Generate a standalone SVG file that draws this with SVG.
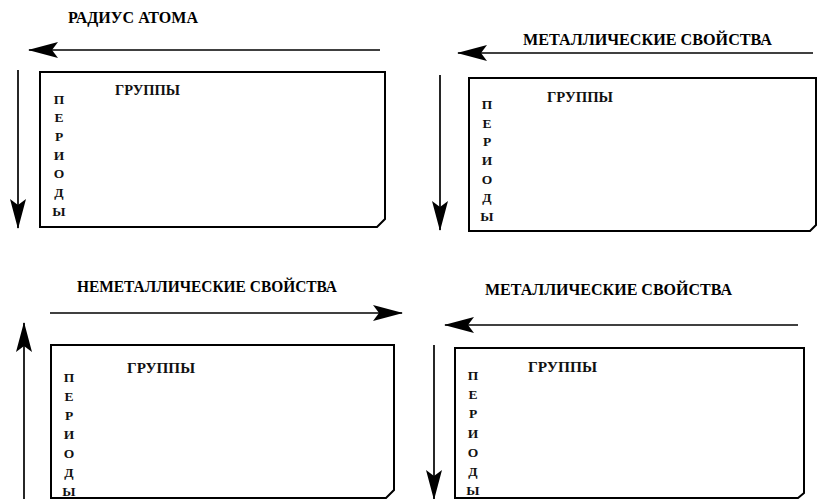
<svg xmlns="http://www.w3.org/2000/svg" width="817" height="499" viewBox="0 0 817 499">
  <style>
    .title { font-family: "Liberation Serif", "Times New Roman", serif; font-weight: bold; font-size: 16px; fill: #000; }
    .grp { font-family: "Liberation Serif", "Times New Roman", serif; font-weight: bold; font-size: 14px; fill: #111; }
    .per { font-family: "Liberation Serif", "Times New Roman", serif; font-weight: bold; font-size: 13.5px; fill: #111; text-anchor: middle; }
    .box { fill: none; stroke: #000; stroke-width: 2; stroke-linejoin: miter; }
    .arr { fill: none; stroke: #000; stroke-width: 1.7; marker-end: url(#head); }
  </style>
  <defs>
    <marker id="head" viewBox="0 0 30 16" markerWidth="30" markerHeight="16" refX="29" refY="8" orient="auto" markerUnits="userSpaceOnUse">
      <path d="M0,0 L30,8 L0,16 L6,8 Z" fill="#000"/>
    </marker>
  </defs>
  <rect width="817" height="499" fill="#fff"/>

  <g id="connectors">
    <line class="arr" x1="380" y1="50" x2="29" y2="50"/>
    <line class="arr" x1="18" y1="70" x2="18" y2="228"/>
    <line class="arr" x1="813" y1="53" x2="458" y2="53"/>
    <line class="arr" x1="440" y1="75" x2="440" y2="230"/>
    <line class="arr" x1="50" y1="313" x2="402" y2="313"/>
    <line class="arr" x1="24" y1="499" x2="24" y2="323"/>
    <line class="arr" x1="798" y1="325" x2="445" y2="325"/>
    <line class="arr" x1="434" y1="345" x2="434" y2="499"/>
  </g>

  <g id="panel-radius">
    <text class="title" x="68" y="23" textLength="130" lengthAdjust="spacingAndGlyphs">РАДИУС АТОМА</text>
    <path class="box" d="M40,72 H385 V219 L377,227 H40 Z"/>
    <text class="grp" x="115" y="95" textLength="65" lengthAdjust="spacingAndGlyphs">ГРУППЫ</text>
    <text class="per" x="59" y="104">П</text>
    <text class="per" x="59" y="122">Е</text>
    <text class="per" x="59" y="141">Р</text>
    <text class="per" x="59" y="160">И</text>
    <text class="per" x="59" y="178">О</text>
    <text class="per" x="59" y="197">Д</text>
    <text class="per" x="59" y="216">Ы</text>
  </g>

  <g id="panel-metal-top">
    <text class="title" x="523" y="45" textLength="249" lengthAdjust="spacingAndGlyphs">МЕТАЛЛИЧЕСКИЕ СВОЙСТВА</text>
    <path class="box" d="M469,78 H816 V225 L810,231 H469 Z"/>
    <text class="grp" x="547" y="102" textLength="66" lengthAdjust="spacingAndGlyphs">ГРУППЫ</text>
    <text class="per" x="487" y="109">П</text>
    <text class="per" x="487" y="128">Е</text>
    <text class="per" x="487" y="146">Р</text>
    <text class="per" x="487" y="165">И</text>
    <text class="per" x="487" y="184">О</text>
    <text class="per" x="487" y="202">Д</text>
    <text class="per" x="487" y="221">Ы</text>
  </g>

  <g id="panel-nonmetal">
    <text class="title" x="77" y="292" textLength="260" lengthAdjust="spacingAndGlyphs">НЕМЕТАЛЛИЧЕСКИЕ СВОЙСТВА</text>
    <path class="box" d="M51,345 H394 V490 L386,498 H51 Z"/>
    <text class="grp" x="127" y="373" textLength="68" lengthAdjust="spacingAndGlyphs">ГРУППЫ</text>
    <text class="per" x="69" y="382">П</text>
    <text class="per" x="69" y="401">Е</text>
    <text class="per" x="69" y="420">Р</text>
    <text class="per" x="69" y="439">И</text>
    <text class="per" x="69" y="458">О</text>
    <text class="per" x="69" y="477">Д</text>
    <text class="per" x="69" y="496">Ы</text>
  </g>

  <g id="panel-metal-bottom">
    <text class="title" x="485" y="295" textLength="247" lengthAdjust="spacingAndGlyphs">МЕТАЛЛИЧЕСКИЕ СВОЙСТВА</text>
    <path class="box" d="M455,348 H804 V493 L798,498 H455 Z"/>
    <text class="grp" x="528" y="372" textLength="69" lengthAdjust="spacingAndGlyphs">ГРУППЫ</text>
    <text class="per" x="473" y="380">П</text>
    <text class="per" x="473" y="399">Е</text>
    <text class="per" x="473" y="418">Р</text>
    <text class="per" x="473" y="438">И</text>
    <text class="per" x="473" y="457">О</text>
    <text class="per" x="473" y="476">Д</text>
    <text class="per" x="473" y="495">Ы</text>
  </g>
</svg>
